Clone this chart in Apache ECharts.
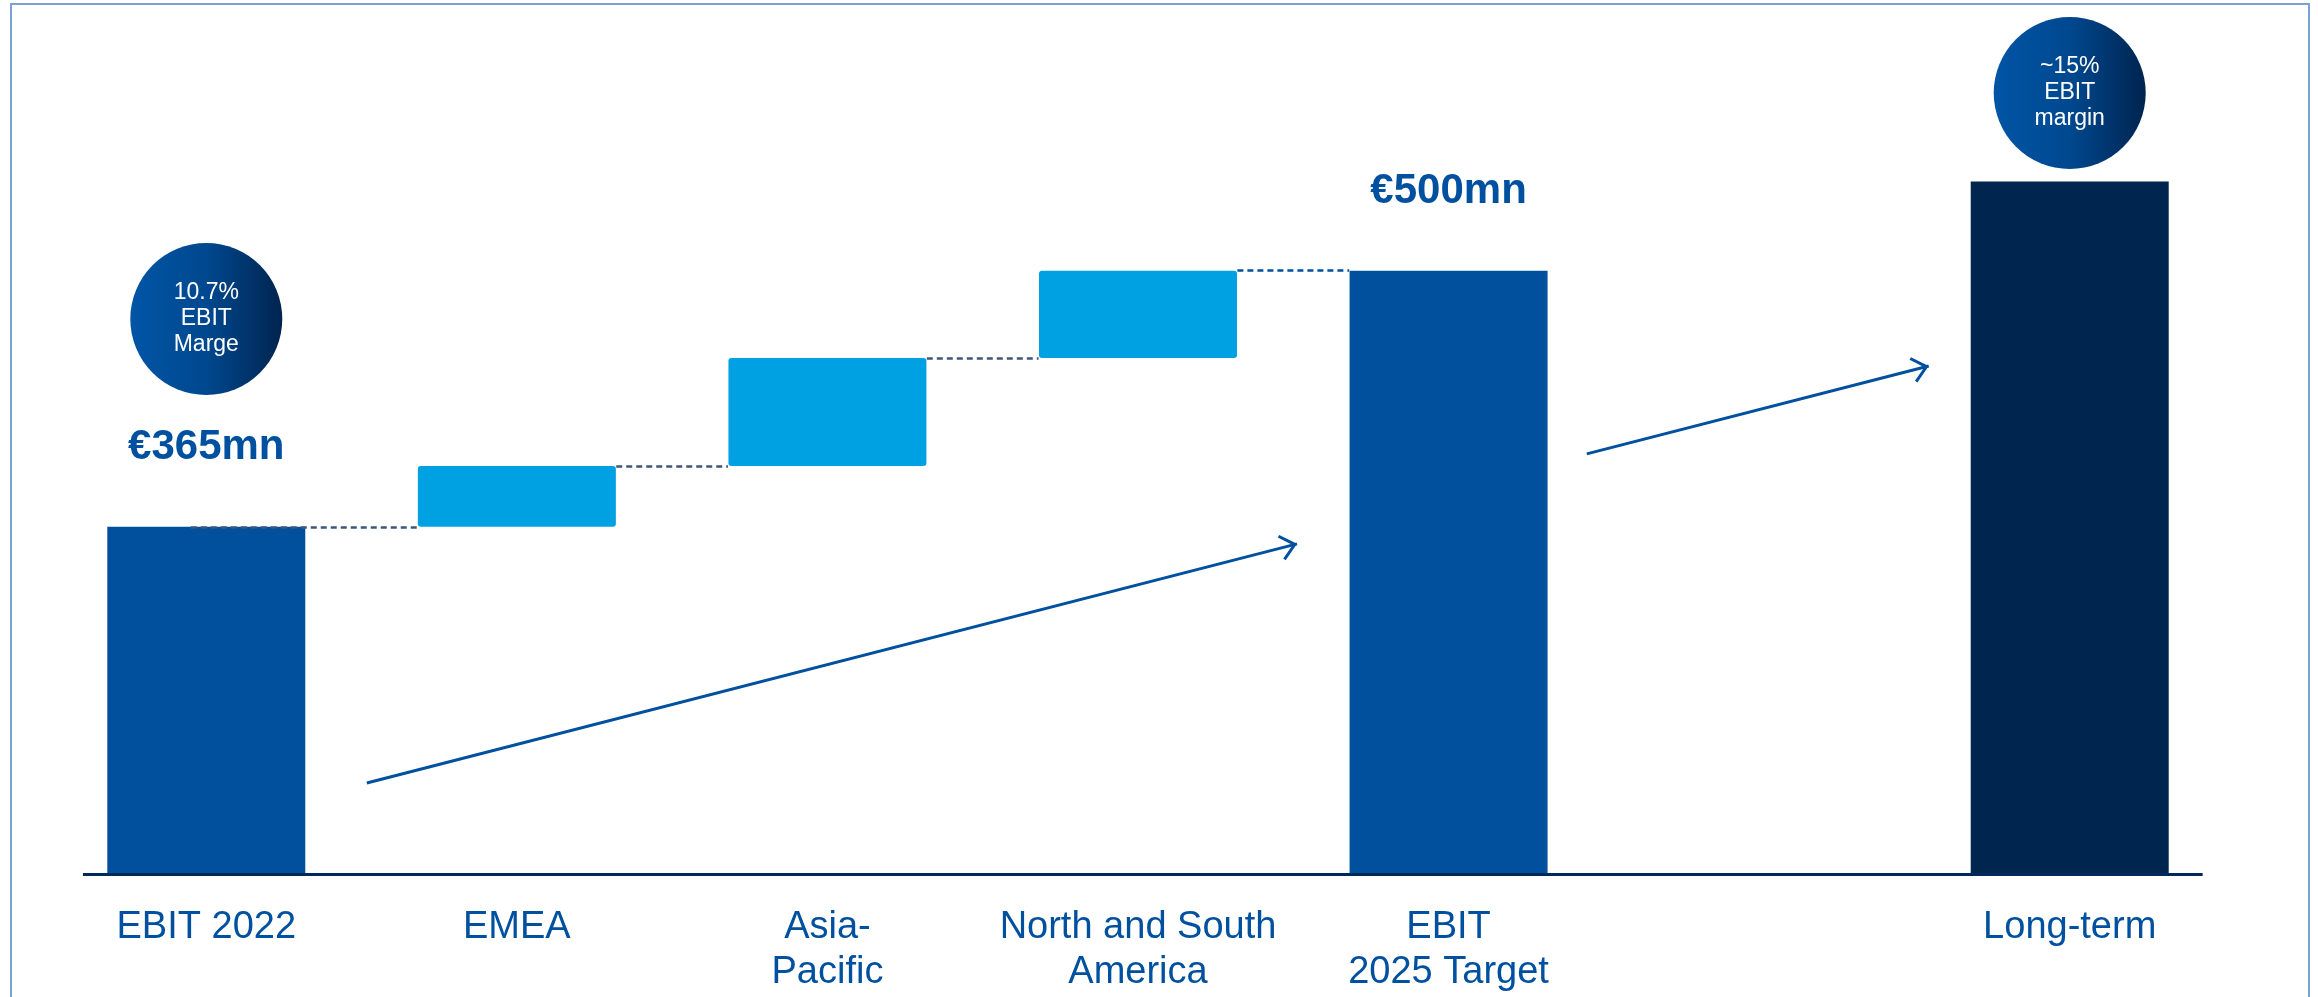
<!DOCTYPE html>
<html>
<head>
<meta charset="utf-8">
<script src="https://cdn.jsdelivr.net/npm/echarts@6/dist/echarts.min.js"></script>
<style>
html, body { margin: 0; padding: 0; background: #ffffff; }
#chart { width: 2318px; height: 997px; }
#frame { position: absolute; left: 10px; top: 3px; width: 2296px; height: 1100px; border: 2px solid #7AA2D2; pointer-events: none; }
</style>
</head>
<body>
<div id="chart"></div>
<div id="frame"></div>
<script>
// ---- data ----
const categories = ['EBIT 2022', 'EMEA', 'Asia-\nPacific', 'North and South\nAmerica', 'EBIT\n2025 Target', '', 'Long-term'];
const totals = [365, null, null, null, 500, null, 547];
const increments = [null, 32, 57, 46, null, null, null];
const valueLabels = ['€365mn', '', '', '', '€500mn', '', ''];
const marginBadges = ['10.7%\nEBIT\nMarge', '~15%\nEBIT\nmargin'];

// ---- derived waterfall helpers ----
const base = [];
const levelAfter = [];
let running = 0;
categories.forEach(function (c, i) {
  if (totals[i] != null) { running = totals[i]; base.push(null); }
  else if (increments[i] != null) { base.push(running); running += increments[i]; }
  else { base.push(null); }
  levelAfter.push(running);
});

const BLUE = '#00509E';
const NAVY = '#00264F';
const LIGHT = '#00A1E3';
const TEXT = '#0050A0';
const AXIS_MIN = 182;
const halfBar = 0.32; // half bar width in category units

const connectorData = [];
for (let i = 0; i < 4; i++) {
  const lvl = levelAfter[i];
  connectorData.push([
    { coord: [i === 0 ? i - 0.05 : i + halfBar, lvl], lineStyle: { color: i === 3 ? TEXT : '#3F5679' } },
    { coord: [i + 1 - halfBar, lvl] }
  ]);
}

const chevron = 'path://M12,17 L24,32 L22,34 L12,21.5 L2,34 L0,32 Z M12,0 L12,0.01 Z';

const chart = echarts.init(document.getElementById('chart'), null, { renderer: 'canvas' });
chart.setOption({
  animation: false,
  backgroundColor: '#ffffff',
  textStyle: { fontFamily: 'Liberation Sans, Arial, sans-serif' },
  grid: { left: 51, right: 93, top: 5, bottom: 123, containLabel: false, outerBoundsMode: 'none' },
  xAxis: [
    {
      type: 'category',
      data: categories,
      axisLine: { show: false },
      axisTick: { show: false },
      axisLabel: {
        interval: 0,
        margin: 31,
        color: TEXT,
        fontSize: 38,
        lineHeight: 45,
        fontFamily: 'Liberation Sans, Arial, sans-serif',
        align: 'center'
      },
      splitLine: { show: false }
    },
    { type: 'value', min: -0.5, max: 6.5, show: false }
  ],
  yAxis: { type: 'value', min: AXIS_MIN, max: 640, show: false },
  series: [
    {
      name: 'base', type: 'bar', stack: 'wf', barWidth: 198, silent: true,
      itemStyle: { color: 'rgba(0,0,0,0)' },
      data: base
    },
    {
      name: 'increase', type: 'bar', stack: 'wf', barWidth: 198,
      itemStyle: { color: LIGHT, borderRadius: 3 },
      data: increments
    },
    {
      name: 'total', type: 'bar', stack: 'wf', barWidth: 198,
      data: totals.map(function (v, i) {
        return v == null ? null : { value: v, itemStyle: { color: i === categories.length - 1 ? NAVY : BLUE } };
      }),
      label: {
        show: true, position: 'top', distance: 58,
        formatter: function (p) { return valueLabels[p.dataIndex] || ''; },
        color: TEXT, fontSize: 42, fontWeight: 'bold',
        fontFamily: 'Liberation Sans, Arial, sans-serif'
      }
    },
    {
      name: 'connectors', type: 'scatter', xAxisIndex: 1, yAxisIndex: 0, data: [], silent: true, clip: false,
      markLine: {
        silent: true, symbol: ['none', 'none'], animation: false,
        label: { show: false },
        lineStyle: { type: [6, 4], width: 2.5, color: '#3F5679' },
        emphasis: { disabled: true },
        data: connectorData.concat([
          [{ coord: [-0.397, AXIS_MIN], lineStyle: { type: 'solid', width: 3, color: '#00285A' } },
           { coord: [6.428, AXIS_MIN] }]
        ])
      }
    },
    {
      name: 'annotations', type: 'scatter', xAxisIndex: 1, yAxisIndex: 0, data: [], silent: true, clip: false,
      markLine: {
        silent: true, animation: false,
        symbol: ['none', chevron], symbolSize: [26, 34],
        label: { show: false },
        lineStyle: { type: 'solid', width: 3, color: TEXT },
        emphasis: { disabled: true },
        data: [
          [{ coord: [0.517, 230] }, { coord: [3.512, 356] }],
          [{ coord: [4.445, 403.4] }, { coord: [5.546, 449.7] }]
        ]
      },
      markPoint: {
        silent: true, animation: false,
        symbol: 'circle', symbolSize: 152,
        itemStyle: {
          color: new echarts.graphic.LinearGradient(0, 0, 1, 0, [
            { offset: 0, color: '#0055A5' },
            { offset: 0.5, color: '#00488F' },
            { offset: 1, color: '#00244F' }
          ])
        },
        label: {
          show: true, position: 'inside', color: '#ffffff', fontSize: 23, lineHeight: 26,
          fontFamily: 'Liberation Sans, Arial, sans-serif',
          formatter: '{b}'
        },
        data: [
          { name: marginBadges[0], coord: [0, 474.5] },
          { name: marginBadges[1], coord: [6, 593.6] }
        ]
      }
    }
  ]
});
</script>
</body>
</html>
